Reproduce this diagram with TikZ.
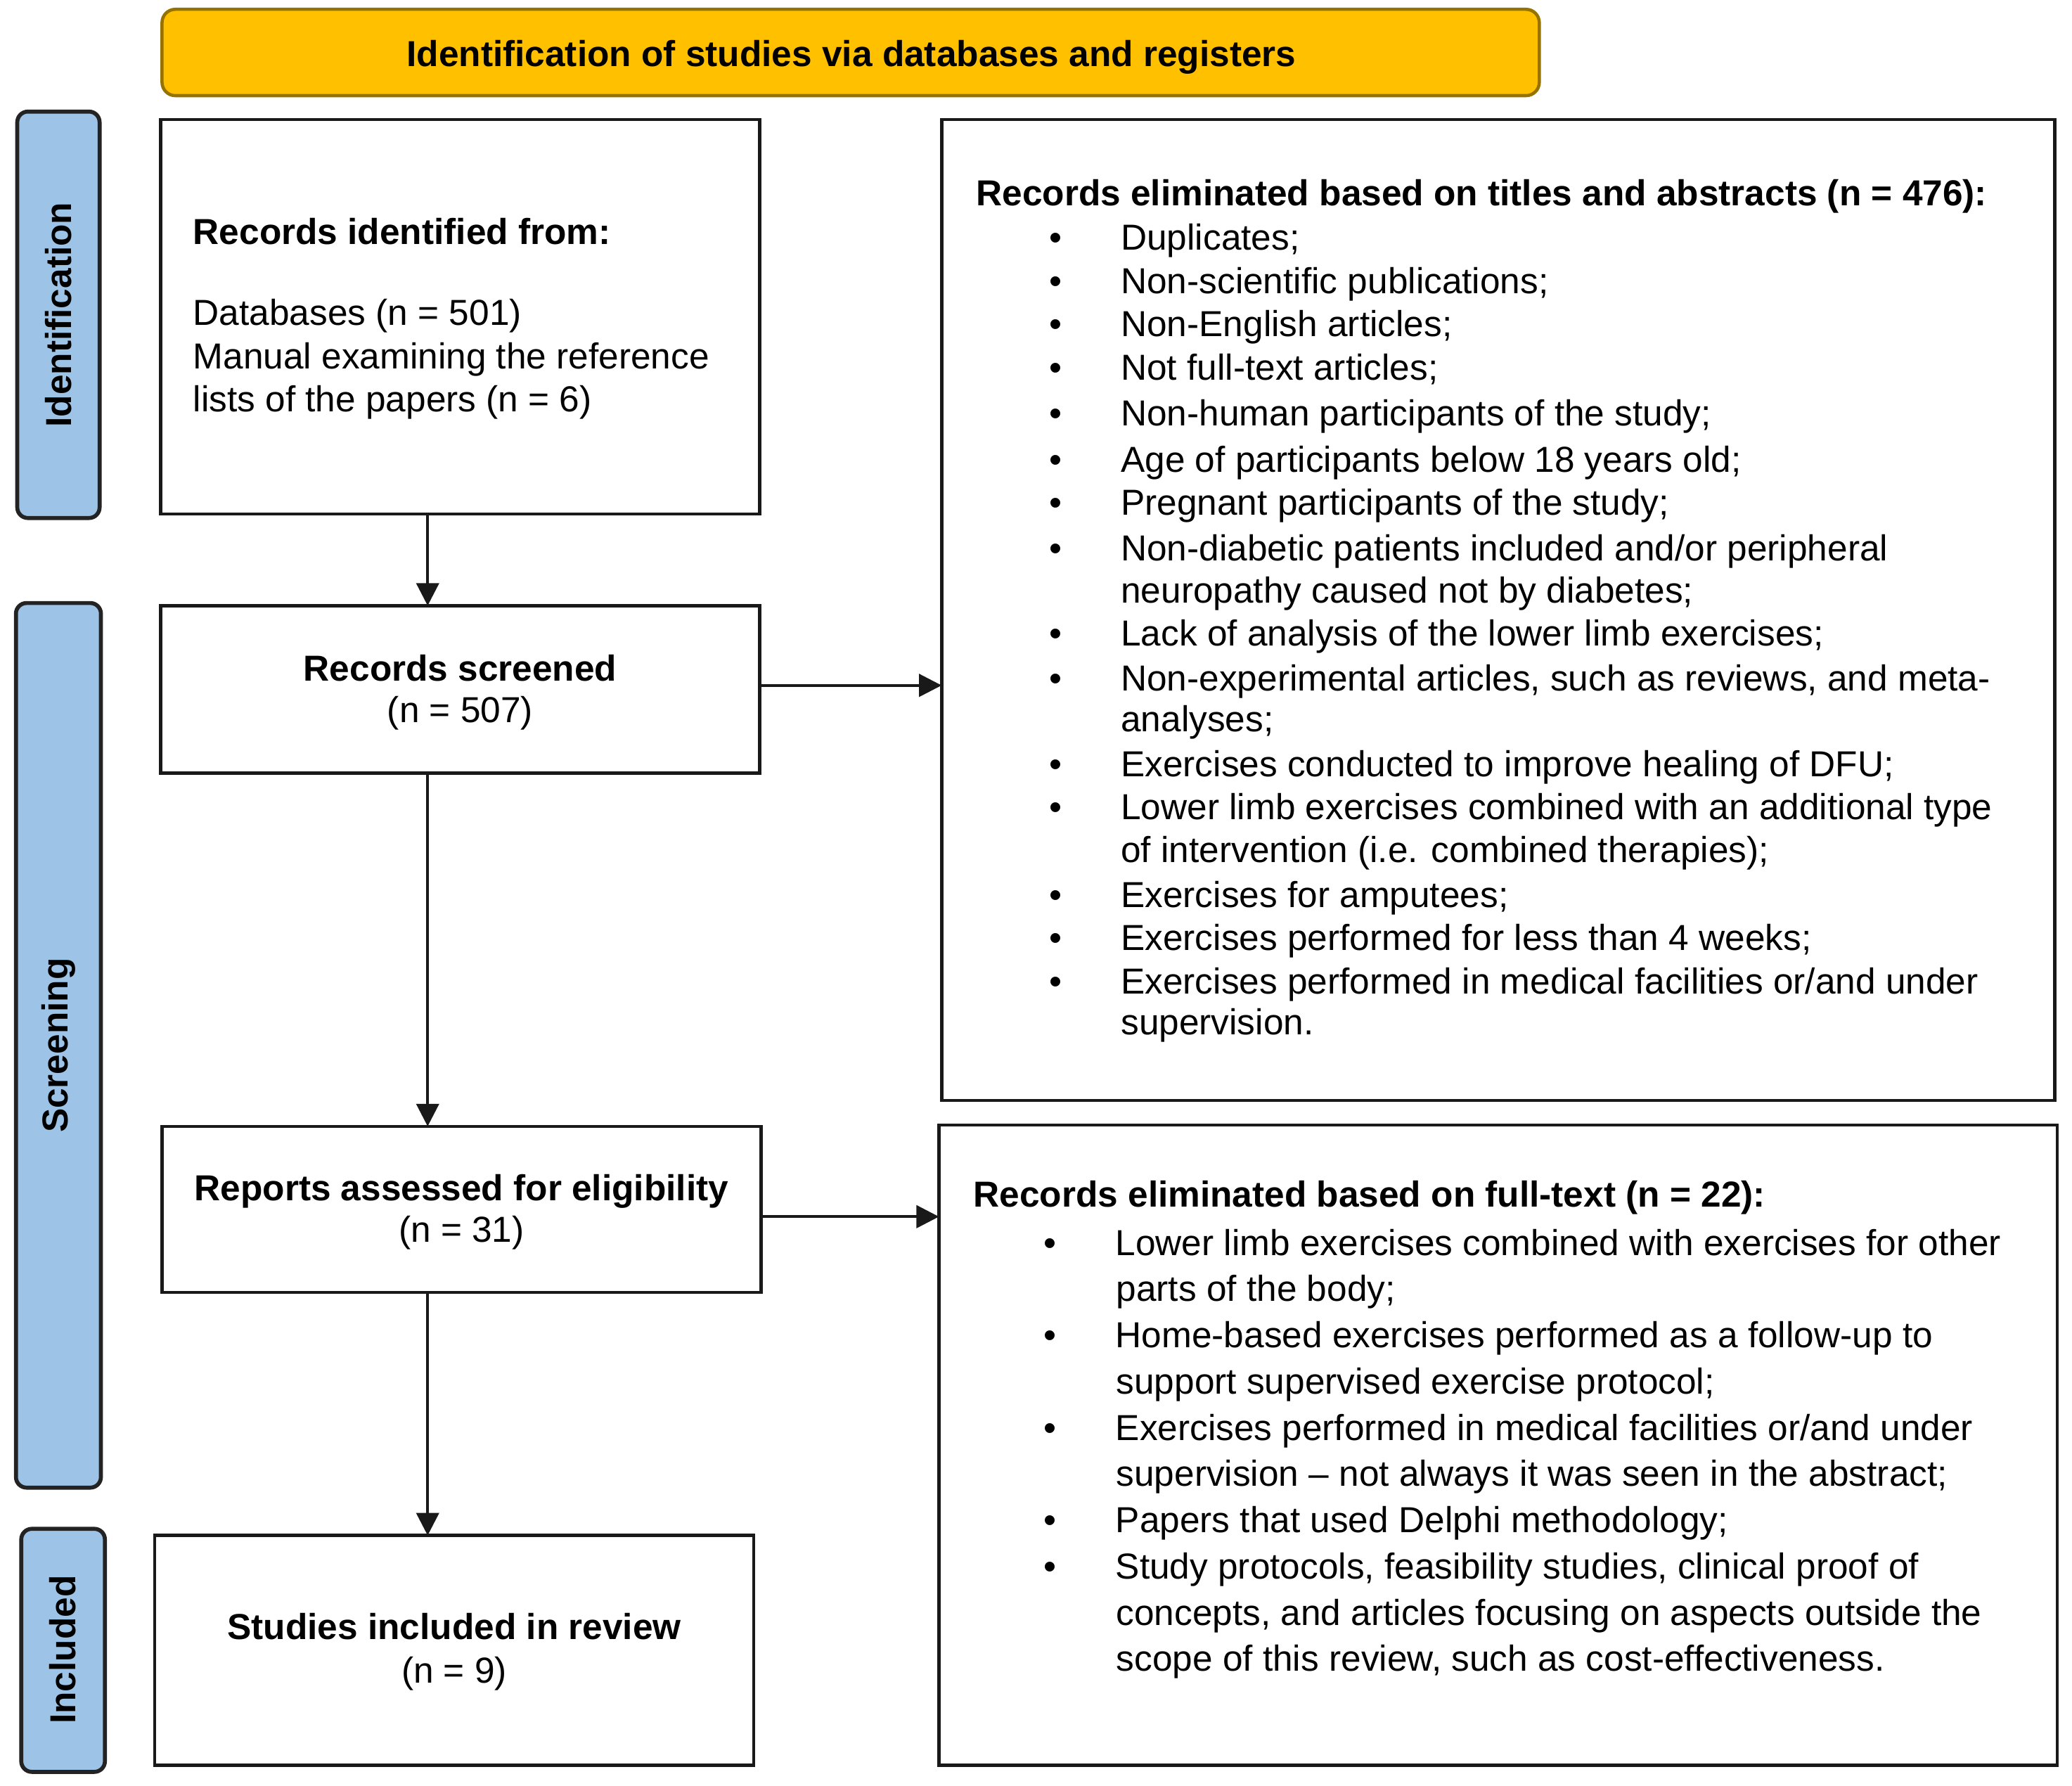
\documentclass[tikz,border=0pt]{standalone}
\usepackage{fontspec}
\setmainfont{Liberation Sans}
\usetikzlibrary{arrows.meta,fit}
\definecolor{hdrfill}{RGB}{255,192,0}
\definecolor{hdrline}{RGB}{150,115,0}
\definecolor{sidefill}{RGB}{157,195,230}
\definecolor{sideline}{RGB}{35,35,35}
\newcommand\BL{\makebox[27pt][l]{\textbullet}}
\begin{document}
\begin{tikzpicture}[x=0.5pt,y=-0.5pt,
  every node/.style={inner sep=0pt, outer sep=0pt, font=\fontsize{13.6}{16}\selectfont},
  frame/.style={draw=black!90, line width=1.2pt, inner sep=0pt},
  sidebox/.style={draw=sideline, fill=sidefill, line width=1.5pt, rounded corners=4pt, inner sep=0pt},
  sidelabel/.style={rotate=90, font=\fontsize{13.6}{16}\selectfont\bfseries},
  arr/.style={line width=1pt, draw=black!90, -{Triangle[length=8.5pt,width=8.5pt]}},
  ln/.style={anchor=base west},
  cl/.style={anchor=base}
]
\useasboundingbox (0,0) rectangle (1560.1,1344.6);
\fill[white] (0,0) rectangle (1560.1,1344.6);

% header
\node[fit={(122,7) (1159,72)}, draw=hdrline, fill=hdrfill, line width=1.2pt, rounded corners=5pt] (hdr) {};
\node[cl, font=\fontsize{13.6}{16}\selectfont\bfseries] (hdrt) at (641,50) {Identification of studies via databases and registers};

% side labels
\node[fit={(13,84) (75,390)}, sidebox] (sid) {};
\node[sidelabel] (sidt) at (44,237) {Identification};
\node[fit={(12,454) (76,1120)}, sidebox] (sscr) {};
\node[sidelabel] (sscrt) at (44,787) {Screening};
\node[fit={(16,1151) (79,1334)}, sidebox] (sinc) {};
\node[sidelabel] (sinct) at (47,1242) {Included};

% left boxes
\node[fit={(121,90) (572,387)}, frame] (b1) {};
\node[ln, font=\fontsize{13.6}{16}\selectfont\bfseries] (b1a) at (145.5,184) {Records identified from:};
\node[ln] (b1b) at (145.5,245) {Databases (n = 501)};
\node[ln] (b1c) at (145.5,277.5) {Manual examining the reference};
\node[ln] (b1d) at (145.5,310) {lists of the papers (n = 6)};

\node[fit={(121,456) (572,582)}, frame] (b2) {};
\node[cl, font=\fontsize{13.6}{16}\selectfont\bfseries] (b2a) at (346.5,512.5) {Records screened};
\node[cl] (b2b) at (346.5,544) {(n = 507)};

\node[fit={(122,848) (573,973)}, frame] (b3) {};
\node[cl, font=\fontsize{13.6}{16}\selectfont\bfseries] (b3a) at (347.5,904) {Reports assessed for eligibility};
\node[cl] (b3b) at (347.5,935) {(n = 31)};

\node[fit={(116.5,1156) (567.5,1329)}, frame] (b4) {};
\node[cl, font=\fontsize{13.6}{16}\selectfont\bfseries] (b4a) at (342,1234.5) {Studies included in review};
\node[cl] (b4b) at (342,1267) {(n = 9)};

% right box 1
\node[fit={(709,90) (1547,828.5)}, frame] (r1) {};
\node[ln, font=\fontsize{13.6}{16}\selectfont\bfseries] (r1t) at (735,155) {Records eliminated based on titles and abstracts (n = 476):};
\node[ln] (a1) at (790,188.3) {\BL Duplicates;};
\node[ln] (a2) at (790,221) {\BL Non-scientific publications;};
\node[ln] (a3) at (790,253.3) {\BL Non-English articles;};
\node[ln] (a4) at (790,286) {\BL Not full-text articles;};
\node[ln] (a5) at (790,320.7) {\BL Non-human participants of the study;};
\node[ln] (a6) at (790,355.4) {\BL Age of participants below 18 years old;};
\node[ln] (a7) at (790,388) {\BL Pregnant participants of the study;};
\node[ln] (a8) at (790,422.3) {\BL Non-diabetic patients included and/or peripheral};
\node[ln] (a9) at (844,453.8) {neuropathy caused not by diabetes;};
\node[ln] (a10) at (790,486.2) {\BL Lack of analysis of the lower limb exercises;};
\node[ln] (a11) at (790,520) {\BL Non-experimental articles, such as reviews, and meta-};
\node[ln] (a12) at (844,551) {analyses;};
\node[ln] (a13) at (790,584.8) {\BL Exercises conducted to improve healing of DFU;};
\node[ln] (a14) at (790,617.2) {\BL Lower limb exercises combined with an additional type};
\node[ln] (a15) at (844,649.3) {of intervention (i.e. combined therapies);};
\node[ln] (a16) at (790,683.3) {\BL Exercises for amputees;};
\node[ln] (a17) at (790,715.6) {\BL Exercises performed for less than 4 weeks;};
\node[ln] (a18) at (790,748.2) {\BL Exercises performed in medical facilities or/and under};
\node[ln] (a19) at (844,779.1) {supervision.};

% right box 2
\node[fit={(707,847) (1549,1329)}, frame] (r2) {};
\node[ln, font=\fontsize{13.6}{16}\selectfont\bfseries] (r2t) at (733,908.5) {Records eliminated based on full-text (n = 22):};
\node[ln] (c1) at (786,945) {\BL Lower limb exercises combined with exercises for other};
\node[ln] (c2) at (840.5,979.8) {parts of the body;};
\node[ln] (c3) at (786,1014.6) {\BL Home-based exercises performed as a follow-up to};
\node[ln] (c4) at (840.5,1049.4) {support supervised exercise protocol;};
\node[ln] (c5) at (786,1084.2) {\BL Exercises performed in medical facilities or/and under};
\node[ln] (c6) at (840.5,1119) {supervision -- not always it was seen in the abstract;};
\node[ln] (c7) at (786,1153.8) {\BL Papers that used Delphi methodology;};
\node[ln] (c8) at (786,1188.6) {\BL Study protocols, feasibility studies, clinical proof of};
\node[ln] (c9) at (840.5,1223.4) {concepts, and articles focusing on aspects outside the};
\node[ln] (c10) at (840.5,1258.2) {scope of this review, such as cost-effectiveness.};

% connectors
\coordinate (ax) at (322,0);
\coordinate (h1) at (0,516);
\coordinate (h2) at (0,916);
\draw[arr] (b1.south -| ax) -- (b2.north -| ax);
\draw[arr] (b2.south -| ax) -- (b3.north -| ax);
\draw[arr] (b3.south -| ax) -- (b4.north -| ax);
\draw[arr] (b2.east |- h1) -- (r1.west |- h1);
\draw[arr] (b3.east |- h2) -- (r2.west |- h2);
\end{tikzpicture}
\end{document}
